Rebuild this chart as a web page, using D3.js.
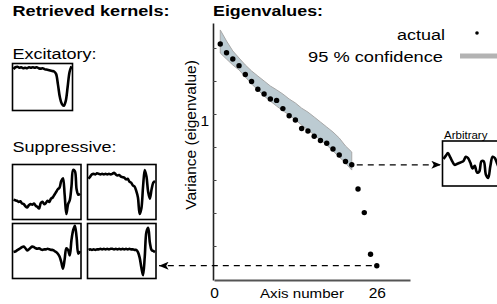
<!DOCTYPE html>
<html>
<head>
<meta charset="utf-8">
<script src="https://cdn.jsdelivr.net/npm/d3@7"></script>
<style>
  body { margin: 0; background: #fff; }
  text { font-family: "Liberation Sans", Arial, Helvetica, sans-serif; fill: #000; }
</style>
</head>
<body>
<div id="chart"></div>
<script>
// Eigenvalue spectrum (axis number 1..26)
const eigenvalues = [4.35, 3.62, 3.17, 2.76, 2.29, 1.98, 1.68, 1.52, 1.37, 1.33, 1.12, 0.965, 0.882,
  0.737, 0.70, 0.626, 0.573, 0.541, 0.479, 0.423, 0.369, 0.344, 0.207, 0.126, 0.0525, 0.0413];

// 95 % confidence band, axes 1..22
const bandUpper = [5.84, 4.63, 3.76, 3.24, 2.80, 2.47, 2.22, 2.00, 1.80, 1.66, 1.52, 1.37, 1.26,
  1.13, 1.04, 0.939, 0.845, 0.761, 0.685, 0.604, 0.511, 0.450];
const bandLower = [3.60, 3.17, 2.80, 2.52, 2.18, 1.88, 1.66, 1.46, 1.31, 1.18, 1.07, 0.979, 0.882,
  0.794, 0.715, 0.643, 0.579, 0.521, 0.460, 0.405, 0.357, 0.308];

const xTickValues = [0, 26];
const yTickValues = [4, 2, 1, 0.5, 0.25, 0.125, 0.0625];
const yTickLabels = { 1: "1" };

// kernel traces, y as fraction of box height, evenly spaced in time
const excitatoryKernel = [.12, .08, .07, .09, .08, .10, .09, .10, .08, .09, .08, .09, .08, .10, .11, .10,
  .12, .13, .14, .15, .16, .17, .22, .45, .72, .86, .90, .80, .50, .18, .06];
const suppressiveKernels = [
  [.64, .65, .66, .68, .67, .71, .72, .76, .78, .74, .72, .73, .71, .75, .77, .80, .70, .68, .72, .70,
   .66, .68, .62, .60, .55, .50, .45, .42, .30, .25, .55, .90, .72, .65, .40, .10, .12, .45, .55, .53],
  [.26, .22, .18, .17, .18, .16, .17, .18, .17, .18, .17, .18, .17, .18, .17, .15, .18, .20, .19, .22,
   .23, .24, .27, .26, .31, .33, .38, .40, .48, .60, .90, .80, .40, .10, .22, .50, .62, .45, .33, .30],
  [.52, .51, .49, .47, .45, .43, .42, .45, .49, .47, .44, .42, .43, .45, .46, .45, .47, .48, .47, .47,
   .46, .47, .48, .48, .50, .52, .55, .60, .70, .82, .65, .45, .48, .58, .30, .12, .04, .25, .55, .50],
  [.48, .47, .48, .47, .48, .47, .47, .46, .47, .46, .47, .46, .47, .46, .46, .47, .46, .47, .46, .47,
   .46, .47, .46, .47, .46, .47, .47, .48, .48, .52, .62, .80, .94, .60, .15, .08, .35, .48, .50, .52]
];
const arbitraryKernel = [.40, .33, .27, .36, .46, .53, .51, .49, .47, .44, .35, .38, .48, .61, .55, .70,
  .68, .45, .45, .75, .82, .55, .35, .38, .50, .60, .45, .35, .50, .55, .45];

const width = 497;
const height = 304;

const svg = d3.select("#chart").append("svg")
  .attr("width", width)
  .attr("height", height);

const defs = svg.append("defs");
defs.append("marker")
  .attr("id", "arrow")
  .attr("markerUnits", "userSpaceOnUse")
  .attr("viewBox", "0 0 12 10")
  .attr("refX", 12).attr("refY", 5)
  .attr("markerWidth", 11).attr("markerHeight", 8)
  .attr("orient", "auto")
  .append("path")
  .attr("d", "M0,0 L12,5 L0,10 L3,5 Z")
  .attr("fill", "#000");

// ---- eigenvalue plot ----
const x = d3.scaleLinear().domain([0, 31.3]).range([214, 410]);
const y = d3.scaleLog().base(2).domain([0.0306, 6.76]).range([280, 23]);

const band = d3.area()
  .x((d, i) => x(i + 1))
  .y0((d, i) => y(bandLower[i]))
  .y1(d => y(d));

svg.append("path")
  .datum(bandUpper)
  .attr("d", band)
  .attr("fill", "#bccbd2")
  .attr("stroke", "#a8a8a8")
  .attr("stroke-width", 1);

svg.append("g")
  .attr("transform", `translate(${x(0) - 1},0)`)
  .call(d3.axisLeft(y).tickValues(yTickValues).tickSize(-3.5).tickSizeOuter(0)
    .tickFormat(d => yTickLabels[d] || ""))
  .call(g => g.select(".domain").attr("stroke", "#222").attr("stroke-width", 1.6))
  .call(g => g.selectAll(".tick line").attr("stroke", "#444"))
  .call(g => g.selectAll("text")
    .attr("font-size", 15.5)
    .attr("font-family", null)
    .attr("x", -4)
    .attr("dy", "0.75em"));

svg.append("g")
  .attr("transform", `translate(0,${y.range()[0]})`)
  .call(d3.axisBottom(x).tickValues(xTickValues).tickSize(0).tickPadding(7))
  .call(g => g.select(".domain").attr("stroke", "#555").attr("stroke-width", 2.2))
  .call(g => g.selectAll("text")
    .attr("font-size", 15.5)
    .attr("font-family", null));

svg.selectAll(".dot")
  .data(eigenvalues)
  .enter().append("circle")
  .attr("class", "dot")
  .attr("cx", (d, i) => x(i + 1))
  .attr("cy", d => y(d))
  .attr("r", 2.7)
  .attr("fill", "#000");

// dashed arrows from the plot to the kernels
const lastBand = eigenvalues.length - 5;
svg.append("line")
  .attr("x1", x(lastBand + 1) + 5).attr("x2", 441)
  .attr("y1", y(eigenvalues[lastBand])).attr("y2", y(eigenvalues[lastBand]))
  .attr("stroke", "#000").attr("stroke-width", 1.3)
  .attr("stroke-dasharray", "6,5")
  .attr("marker-end", "url(#arrow)");

const last = eigenvalues.length - 1;
svg.append("line")
  .attr("x1", x(last + 1) - 5).attr("x2", 159)
  .attr("y1", y(eigenvalues[last])).attr("y2", y(eigenvalues[last]))
  .attr("stroke", "#000").attr("stroke-width", 1.3)
  .attr("stroke-dasharray", "6,5")
  .attr("marker-end", "url(#arrow)");

// ---- kernels ----
function drawKernel(x0, y0, w, h, values) {
  const g = svg.append("g");
  const id = "clip" + Math.round(x0) + "_" + Math.round(y0);
  defs.append("clipPath").attr("id", id)
    .append("rect").attr("x", x0).attr("y", y0).attr("width", w).attr("height", h);
  const kx = d3.scaleLinear().domain([0, values.length - 1]).range([x0 + 1, x0 + w - 1]);
  const ky = d3.scaleLinear().domain([0, 1]).range([y0, y0 + h]);
  g.append("path")
    .datum(values)
    .attr("clip-path", `url(#${id})`)
    .attr("d", d3.line().x((d, i) => kx(i)).y(d => ky(d)).curve(d3.curveCatmullRom.alpha(0.5)))
    .attr("fill", "none")
    .attr("stroke", "#000")
    .attr("stroke-width", 2.6)
    .attr("stroke-linejoin", "round");
  g.append("rect")
    .attr("x", x0).attr("y", y0).attr("width", w).attr("height", h)
    .attr("fill", "none").attr("stroke", "#000").attr("stroke-width", 1.6);
}

drawKernel(12.5, 63.5, 60, 47, excitatoryKernel);
drawKernel(12.5, 164.5, 68.5, 55, suppressiveKernels[0]);
drawKernel(87.5, 164.5, 68.5, 55, suppressiveKernels[1]);
drawKernel(12.5, 223.5, 68.5, 55, suppressiveKernels[2]);
drawKernel(87.5, 223.5, 68.5, 55, suppressiveKernels[3]);
drawKernel(442.5, 141, 69, 45, arbitraryKernel);

// ---- text ----
function label(txt, xp, yp, opts) {
  const t = svg.append("text")
    .attr("x", xp).attr("y", yp)
    .attr("font-size", opts.size || 15.5)
    .attr("font-weight", opts.bold ? "bold" : null)
    .attr("text-anchor", opts.anchor || "start")
    .text(txt);
  if (opts.len) t.attr("textLength", opts.len).attr("lengthAdjust", "spacingAndGlyphs");
  return t;
}

label("Retrieved kernels:", 12.5, 16, { bold: true, len: 157 });
label("Eigenvalues:", 213, 16, { bold: true, len: 110 });
label("Excitatory:", 12.5, 58.5, { len: 84 });
label("Suppressive:", 12.5, 152, { len: 104 });
label("actual", 445, 39.5, { anchor: "end", len: 48 });
label("95 % confidence", 443, 62, { anchor: "end", len: 135 });
label("Axis number", 260, 298, { size: 12.5, len: 84 });
label("Arbitrary", 444, 139, { size: 11.5 });

svg.append("text")
  .attr("transform", "translate(196,135) rotate(-90)")
  .attr("text-anchor", "middle")
  .attr("font-size", 15.5)
  .text("Variance (eigenvalue)");

// legend marks
svg.append("circle").attr("cx", 477).attr("cy", 33).attr("r", 1.8).attr("fill", "#000");
svg.append("line")
  .attr("x1", 460).attr("x2", 500).attr("y1", 56).attr("y2", 56)
  .attr("stroke", "#b3b3b3").attr("stroke-width", 5);
</script>
</body>
</html>
